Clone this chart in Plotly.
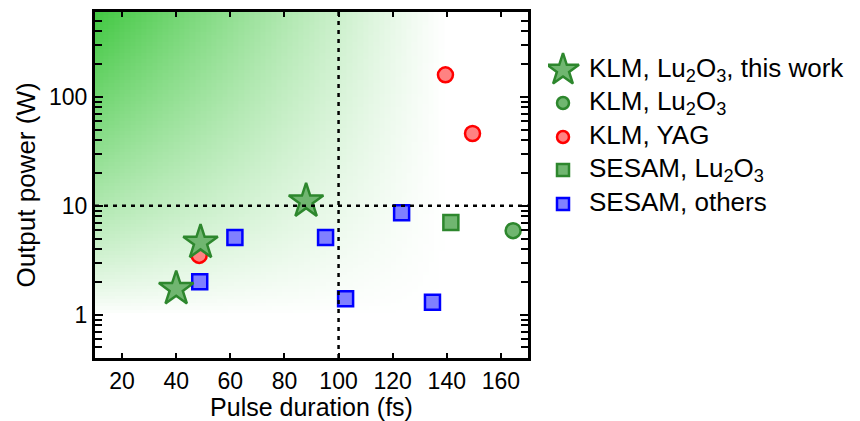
import numpy as np
import plotly.graph_objects as go

# ---------------- data ----------------
star_x = [40, 49, 88]          # KLM, Lu2O3, this work
star_y = [1.73, 4.6, 11.0]
klm_lu_x = [164.5]             # KLM, Lu2O3
klm_lu_y = [5.9]
klm_yag_x = [48.5, 139.5, 149.5]  # KLM, YAG
klm_yag_y = [3.5, 159, 46]
sesam_lu_x = [141.5]           # SESAM, Lu2O3
sesam_lu_y = [7.0]
sesam_oth_x = [48.7, 61.7, 95.2, 102.6, 123.3, 134.7]  # SESAM, others
sesam_oth_y = [2.0, 5.1, 5.1, 1.4, 8.6, 1.3]

legend_names = ["KLM, Lu<sub>2</sub>O<sub>3</sub>, this work",
                "KLM, Lu<sub>2</sub>O<sub>3</sub>",
                "KLM, YAG",
                "SESAM, Lu<sub>2</sub>O<sub>3</sub>",
                "SESAM, others"]

x_ticks = [20, 40, 60, 80, 100, 120, 140, 160]
y_ticks = [1, 10, 100]
y_ticktext = ["1", "10", "100"]
y_minor = [0.4, 0.5, 0.6, 0.7, 0.8, 0.9, 2, 3, 4, 5, 6, 7, 8, 9,
           20, 30, 40, 50, 60, 70, 80, 90, 200, 300, 400, 500]
thr_x = 100
thr_y = 10

# ---------------- styles ----------------
GREEN_FILL = "rgb(112,182,112)"
GREEN_LINE = "rgb(45,135,45)"
RED_FILL = "rgb(255,130,130)"
RED_LINE = "rgb(255,0,0)"
BLUE_FILL = "rgb(128,128,255)"
BLUE_LINE = "rgb(0,0,255)"
FONT = "Liberation Sans, Arial, sans-serif"

# background gradient (decoration)
gx = np.linspace(10, 140, 66)
gly = np.linspace(0, 2.8, 90)
gy = 10 ** gly
zx = np.clip((140 - gx) / 130, 0, 1) ** 1.1
zy = np.clip(gly / 2.78, 0, 1) ** 0.85
gz = np.outer(zy, zx)

fig = go.Figure()
fig.add_trace(go.Heatmap(x=gx, y=gy, z=gz, zmin=0, zmax=1,
                         colorscale=[[0, "rgb(255,255,255)"], [1, "rgb(66,200,66)"]],
                         showscale=False, hoverinfo="skip", xaxis="x", yaxis="y"))

def add_pts(x, y, symbol, size, fill, line):
    fig.add_trace(go.Scatter(x=x, y=y, mode="markers", showlegend=False,
                             marker=dict(symbol=symbol, size=size, color=fill,
                                         line=dict(color=line, width=2.5))))

add_pts(klm_yag_x, klm_yag_y, "circle", 15, RED_FILL, RED_LINE)
add_pts(klm_lu_x, klm_lu_y, "circle", 15, GREEN_FILL, GREEN_LINE)
add_pts(sesam_lu_x, sesam_lu_y, "square", 15, GREEN_FILL, GREEN_LINE)
add_pts(sesam_oth_x, sesam_oth_y, "square", 15, BLUE_FILL, BLUE_LINE)
add_pts(star_x, star_y, "star", 26, GREEN_FILL, GREEN_LINE)

# threshold lines
fig.add_shape(type="line", xref="x", yref="paper", x0=thr_x, x1=thr_x, y0=0, y1=1,
              line=dict(color="black", width=2.5, dash="4px,5px"))
fig.add_shape(type="line", xref="paper", yref="y", x0=0, x1=433 / 763, y0=thr_y, y1=thr_y,
              line=dict(color="black", width=2.5, dash="4px,5px"))

# custom legend on an auxiliary axis (pixel-like coordinates)
leg_rows = [58, 91, 125, 158, 192]
leg_sym = ["star", "circle", "circle", "square", "square"]
leg_size = [24, 12, 12, 12, 12]
leg_fill = [GREEN_FILL, GREEN_FILL, RED_FILL, GREEN_FILL, BLUE_FILL]
leg_line = [GREEN_LINE, GREEN_LINE, RED_LINE, GREEN_LINE, BLUE_LINE]
for i in range(5):
    fig.add_trace(go.Scatter(x=[563], y=[leg_rows[i]], mode="markers", showlegend=False,
                             xaxis="x2", yaxis="y2", hoverinfo="skip",
                             marker=dict(symbol=leg_sym[i], size=leg_size[i], color=leg_fill[i],
                                         line=dict(color=leg_line[i], width=2.5))))
fig.add_trace(go.Scatter(x=[589] * 5, y=leg_rows, mode="text", text=legend_names,
                         textposition="middle right", showlegend=False,
                         xaxis="x2", yaxis="y2", hoverinfo="skip",
                         textfont=dict(family=FONT, size=26, color="black")))

fig.update_layout(
    width=860, height=421,
    margin=dict(l=95, r=2, t=12, b=63),
    paper_bgcolor="white", plot_bgcolor="white",
    font=dict(family=FONT, size=23, color="black"),
    showlegend=False,
    xaxis=dict(domain=[0, 433 / 763], range=[10, 170], tickvals=x_ticks,
               ticks="inside", ticklen=5, tickwidth=2, tickcolor="black",
               showline=True, linewidth=3, linecolor="black", mirror="allticks",
               showgrid=False, zeroline=False,
               tickfont=dict(size=23), ticklabelstandoff=0,
               title=dict(text="Pulse duration (fs)", font=dict(size=25), standoff=9)),
    yaxis=dict(type="log", range=[np.log10(0.4), np.log10(600)],
               tickvals=y_ticks, ticktext=y_ticktext,
               ticks="inside", ticklen=8, tickwidth=2, tickcolor="black",
               minor=dict(tickvals=y_minor, ticks="inside", ticklen=7, tickwidth=2,
                          tickcolor="black", showgrid=False),
               showline=True, linewidth=3, linecolor="black", mirror="allticks",
               showgrid=False, zeroline=False,
               tickfont=dict(size=23),
               title=dict(text="Output power (W)", font=dict(size=26), standoff=6)),
    xaxis2=dict(domain=[(548 - 95) / 763, 1], range=[548, 858], visible=False,
                anchor="y2", fixedrange=True),
    yaxis2=dict(domain=[0, 1], range=[346, 0], visible=False, anchor="x2", fixedrange=True),
)

fig.write_html("out.html")
